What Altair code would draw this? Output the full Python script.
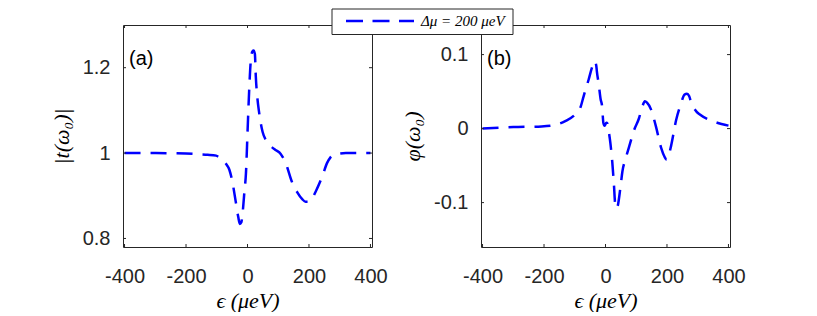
import altair as alt
import pandas as pd

# ---- data ----
eps_t = [-400, -300, -200, -150, -130, -102, -86, -70, -59, -49, -38, -30, -25, -20, -16, -10, -5,
         0, 5.5, 11, 16, 20, 24, 27, 32, 38, 49, 60, 76, 90, 108, 124, 146, 162, 178, 189, 200,
         210, 222, 243, 259, 270, 281, 300, 320, 400]
t_abs = [1.0, 1.0, 0.999, 0.997, 0.996, 0.994, 0.986, 0.975, 0.961, 0.932, 0.885, 0.85, 0.834, 0.838,
         0.859, 0.91, 0.953, 1.047, 1.148, 1.219, 1.238, 1.24, 1.232, 1.18, 1.13, 1.094, 1.05, 1.03,
         1.016, 1.008, 0.998, 0.977, 0.930, 0.908, 0.892, 0.886, 0.886, 0.893, 0.910, 0.945, 0.977,
         0.99, 0.996, 0.999, 1.0, 1.0]

eps_phi = [-400, -300, -208, -164, -131, -99, -82, -71, -55, -42, -35, -30, -28, -22, -16, -11, -7,
           -3, 3, 6, 9, 16, 22, 27, 32, 36, 40, 49, 55, 66, 80, 93, 109, 120, 128, 135, 148, 164,
           181, 192, 199, 205, 213, 230, 245, 257, 265, 272, 279, 296, 307, 350, 400]
phi = [0.0, 0.002, 0.003, 0.005, 0.010, 0.019, 0.028, 0.044, 0.066, 0.085, 0.091, 0.085, 0.077, 0.06,
       0.04, 0.03, 0.008, 0.004, 0.008, 0.007, 0.0, -0.02, -0.045, -0.073, -0.104, -0.108, -0.104,
       -0.078, -0.058, -0.04, -0.02, -0.002, 0.014, 0.03, 0.037, 0.035, 0.026, 0.003, -0.026, -0.038,
       -0.042, -0.037, -0.024, 0.012, 0.033, 0.046, 0.047, 0.044, 0.035, 0.023, 0.019, 0.010, 0.004]

x_ticks = [-400, -200, 0, 200, 400]
t_ticks = [0.8, 1, 1.2]
phi_ticks = [-0.1, 0, 0.1]
legend_label = "Δμ = 200 μeV"

W, H = 249, 222
FRAME = "#262626"
BLUE = "#0000FF"
FMT = "replace(format(datum.value, '~g'), '\u2212', '-')"
one = pd.DataFrame({"k": [0]})


def panel(df, yfield, ydomain, yticks, ytitle, tag):
    xs = alt.Scale(domain=[-405, 405], nice=False, zero=False)
    ys = alt.Scale(domain=ydomain, nice=False, zero=False)
    xax = alt.Axis(values=x_ticks, title="ϵ (μeV)", labelExpr=FMT,
                   labelPadding=19, titlePadding=4)
    yax = alt.Axis(values=yticks, title=ytitle, labelExpr=FMT,
                   labelPadding=13, titlePadding=9)
    line = alt.Chart(df).mark_line(
        color=BLUE, strokeWidth=2.5, strokeDash=[16, 10], interpolate="monotone"
    ).encode(
        x=alt.X("eps:Q", scale=xs, axis=xax),
        y=alt.Y(f"{yfield}:Q", scale=ys, axis=yax),
    )
    xt = pd.DataFrame({"eps": x_ticks})
    yt = pd.DataFrame({yfield: yticks})
    rule = dict(color=FRAME, strokeWidth=1)
    tb = alt.Chart(xt).mark_rule(**rule).encode(
        x=alt.X("eps:Q", scale=xs, axis=xax), y=alt.value(H), y2=alt.value(H - 3))
    tt = alt.Chart(xt).mark_rule(**rule).encode(
        x=alt.X("eps:Q", scale=xs, axis=xax), y=alt.value(0), y2=alt.value(3))
    tl = alt.Chart(yt).mark_rule(**rule).encode(
        y=alt.Y(f"{yfield}:Q", scale=ys, axis=yax), x=alt.value(0), x2=alt.value(3))
    tr = alt.Chart(yt).mark_rule(**rule).encode(
        y=alt.Y(f"{yfield}:Q", scale=ys, axis=yax), x=alt.value(W), x2=alt.value(W - 3))
    lab = alt.Chart(one).mark_text(
        text=tag, align="left", baseline="middle", font="Liberation Sans",
        fontSize=20, color="black"
    ).encode(x=alt.value(6), y=alt.value(33.5))
    return [line, tb, tt, tl, tr, lab]


df_t = pd.DataFrame({"eps": eps_t, "t": t_abs})
df_p = pd.DataFrame({"eps": eps_phi, "phi": phi})

left = alt.layer(*panel(df_t, "t", [0.78, 1.30], t_ticks, "|t(ω₀)|", "(a)")).properties(width=W, height=H)

leg_box = alt.Chart(one).mark_rect(fill="white", stroke=FRAME, strokeWidth=1).encode(
    x=alt.value(-149), x2=alt.value(32), y=alt.value(-16), y2=alt.value(9.5))
leg_line = alt.Chart(one).mark_rule(color=BLUE, strokeWidth=2.5, strokeDash=[17, 9.5]).encode(
    x=alt.value(-135), x2=alt.value(-67), y=alt.value(-4))
leg_text = alt.Chart(one).mark_text(
    text=legend_label, align="left", baseline="middle", font="Liberation Serif",
    fontStyle="italic", fontSize=15, color="black"
).encode(x=alt.value(-60), y=alt.value(-4))

right = alt.layer(*panel(df_p, "phi", [-0.16, 0.14], phi_ticks, "φ(ω₀)", "(b)"),
                  leg_box, leg_line, leg_text).properties(width=W, height=H)

chart = alt.hconcat(left, right, spacing=109, bounds="flush").properties(
    padding={"left": 41, "top": 0, "right": 0, "bottom": 0},
    background="white",
).configure_view(
    stroke=FRAME, strokeWidth=1
).configure_axis(
    labelFont="Liberation Sans", labelFontSize=20, labelColor=FRAME,
    titleFont="Liberation Serif", titleFontStyle="italic", titleFontWeight="normal",
    titleFontSize=22, titleColor="black",
    ticks=False, domain=False, grid=False,
)

chart.save("out.html", embed_options={"renderer": "svg", "actions": False})
